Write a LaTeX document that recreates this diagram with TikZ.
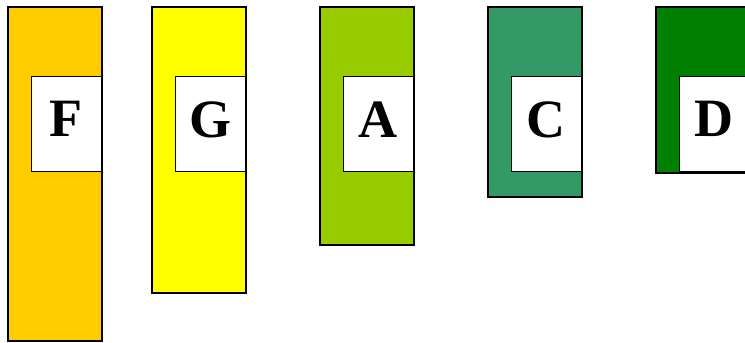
\documentclass[tikz,border=0pt]{standalone}
\usepackage{fontspec}
\setmainfont{Liberation Serif}
\usepackage{xcolor}
\usetikzlibrary{positioning}
\definecolor{barF}{HTML}{FFCC00}
\definecolor{barG}{HTML}{FFFF00}
\definecolor{barA}{HTML}{99CC00}
\definecolor{barC}{HTML}{339966}
\definecolor{barD}{HTML}{008000}
\begin{document}
\begin{tikzpicture}[
  x=1pt, y=-1pt,
  gradeBar/.style={draw, line width=2pt, rectangle, anchor=north west,
                   minimum width=94pt, inner sep=0pt, outer sep=0pt},
  gradeBox/.style={draw, line width=1pt, fill=white, rectangle, anchor=north east,
                   minimum width=70.5pt, minimum height=95.5pt, inner sep=0pt,
                   text depth=9pt, font=\fontsize{54}{54}\selectfont\bfseries}
]
\clip (0,0) rectangle (745,343);
% Bars
\node[gradeBar, fill=barF, minimum height=334pt] (bF) at (8,7) {};
\node[gradeBar, fill=barG, minimum height=286pt] (bG) at (152,7) {};
\node[gradeBar, fill=barA, minimum height=238pt] (bA) at (320,7) {};
\node[gradeBar, fill=barC, minimum height=190pt] (bC) at (488,7) {};
\node[gradeBar, fill=barD, minimum height=166pt] (bD) at (656,7) {};
% Labels
\node[gradeBox] (lF) at ([yshift=-68.5pt]bF.north east) {F};
\node[gradeBox] (lG) at ([yshift=-68.5pt]bG.north east) {G};
\node[gradeBox] (lA) at ([yshift=-68.5pt]bA.north east) {A};
\node[gradeBox] (lC) at ([yshift=-68.5pt]bC.north east) {C};
\node[gradeBox] (lD) at ([yshift=-68.5pt]bD.north east) {D};
\end{tikzpicture}
\end{document}
